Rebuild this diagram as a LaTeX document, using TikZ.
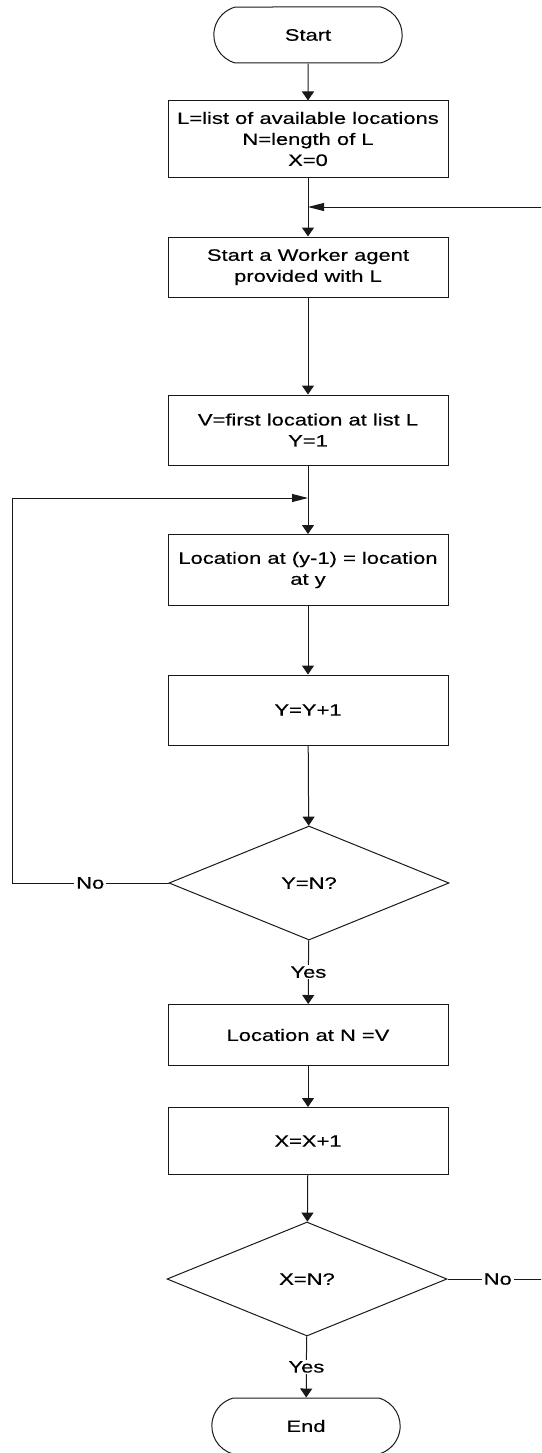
\documentclass[tikz,border=0pt]{standalone}
\usepackage{fontspec}
\setmainfont{Liberation Sans}[FakeStretch=1.33,FakeBold=0.4]
\usetikzlibrary{arrows.meta,shapes.geometric,shapes.misc}

\begin{document}
\begin{tikzpicture}[x=1pt,y=-1pt,
  every node/.style={font=\fontsize{16.5}{21}\selectfont, text=black},
  line/.style={draw=black!90, line width=1pt},
  procbox/.style={line, rectangle, minimum width=280pt, align=center, inner sep=0pt},
  term/.style={line, rounded rectangle, rounded rectangle arc length=150,
    minimum width=195pt, minimum height=56pt},
  decision/.style={line, diamond, minimum width=280pt, minimum height=114pt, inner sep=0pt},
  varrow/.style={line, -{Triangle[width=12pt,length=9pt]}},
  harrow/.style={line, -{Triangle[width=8pt,length=16pt]}},
  lbl/.style={fill=white, inner xsep=2pt, inner ysep=1pt}
]
\useasboundingbox (0,0) rectangle (541,1453);
\clip (0,0) rectangle (541,1453);

% flow steps
\node[term] (start) at (308,35) {Start};
\node[procbox, minimum height=76pt] (init) at (308,139)
  {L=list of available locations\\N=length of L\\X=0};
\node[procbox, minimum height=60pt] (worker) at (308,267)
  {Start a Worker agent\\provided with L};
\node[procbox, minimum height=70pt] (first) at (308,430)
  {V=first location at list L\\Y=1};
\node[procbox, minimum height=71pt] (shift) at (308,570)
  {Location at (y-1) = location\\at y};
\node[procbox, minimum height=70pt] (incy) at (308,710) {Y=Y+1};
\node[decision] (testy) at (309,883) {Y=N?};
\node[procbox, minimum height=61pt] (last) at (308,1035) {Location at N =V};
\node[procbox, minimum height=67pt] (incx) at (308,1141) {X=X+1};
\node[decision] (testx) at (307,1279) {X=N?};
\node[term] (end) at (306,1426) {End};

% junctions where the loops rejoin the main line
\coordinate (j1) at (308,207);
\coordinate (j2) at (308,498);

% main flow
\draw[varrow] (start) -- (init);
\draw[varrow] (init) -- (worker);
\draw[varrow] (worker) -- (first);
\draw[varrow] (first) -- (shift);
\draw[varrow] (shift) -- (incy);
\draw[varrow] (incy) -- (testy);
\draw[varrow] (testy) -- node[lbl] {Yes} (last);
\draw[varrow] (last) -- (incx);
\draw[varrow] (incx) -- (testx);
\draw[varrow] (testx) -- node[lbl] {Yes} (end);

% inner loop back to the shift step
\draw[harrow] (testy.west) -- node[lbl] {No} (12,883) -- (12,498) -- (j2);

% outer loop back to a new worker
\draw[harrow] (testx.east) -- node[lbl] {No} (548,1279) -- (548,207) -- (j1);
\end{tikzpicture}
\end{document}
